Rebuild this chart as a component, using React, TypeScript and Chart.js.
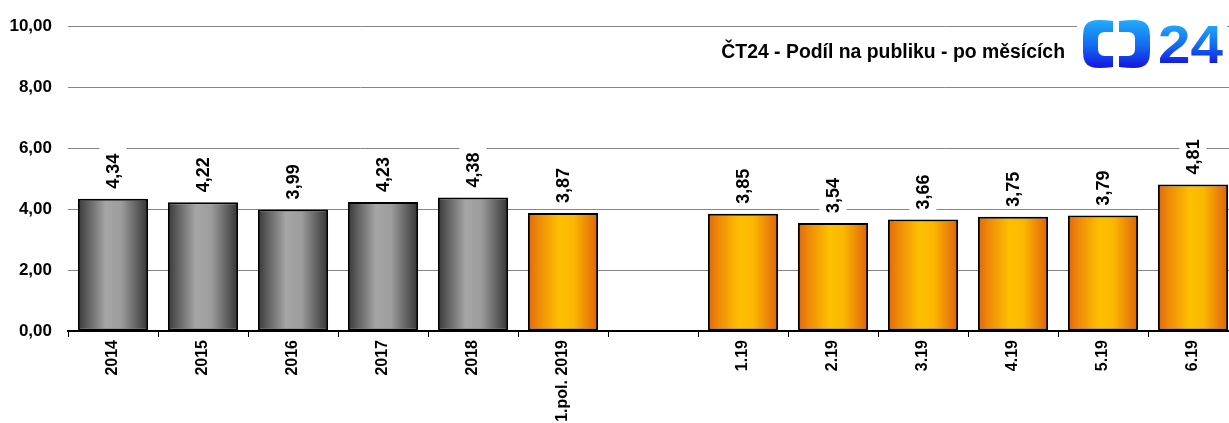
import React, { useEffect, useRef } from "react";
import { Chart, registerables } from "chart.js";

Chart.register(...registerables);

const categories: string[] = [
  "2014", "2015", "2016", "2017", "2018", "1.pol. 2019", "",
  "1.19", "2.19", "3.19", "4.19", "5.19", "6.19",
];
const values: (number | null)[] = [
  4.34, 4.22, 3.99, 4.23, 4.38, 3.87, null, 3.85, 3.54, 3.66, 3.75, 3.79, 4.81,
];
// which bars belong to the yearly (grey) group
const yearlyCount = 5;
const yTicks = { min: 0, max: 10, step: 2 };
const titleText = "ČT24 - Podíl na publiku - po měsících";
const logoText = "24";

const FONT = '"Liberation Sans", Arial, sans-serif';

const fmt = (v: number) => v.toFixed(2).replace(".", ",");

function barGradient(ctx: CanvasRenderingContext2D, left: number, right: number, grey: boolean) {
  const g = ctx.createLinearGradient(left, 0, right, 0);
  if (grey) {
    g.addColorStop(0, "#383838");
    g.addColorStop(0.12, "#5a5a5a");
    g.addColorStop(0.4, "#a6a6a6");
    g.addColorStop(0.62, "#9c9c9c");
    g.addColorStop(0.88, "#555555");
    g.addColorStop(1, "#353535");
  } else {
    g.addColorStop(0, "#e0680c");
    g.addColorStop(0.15, "#ee8a08");
    g.addColorStop(0.45, "#ffc000");
    g.addColorStop(0.65, "#fbb800");
    g.addColorStop(0.9, "#e87a0a");
    g.addColorStop(1, "#de620c");
  }
  return g;
}

function logoGradient(ctx: CanvasRenderingContext2D, y0: number, y1: number) {
  const grad = ctx.createLinearGradient(0, y0, 0, y1);
  grad.addColorStop(0, "#22acfa");
  grad.addColorStop(0.5, "#1470f2");
  grad.addColorStop(1, "#1414e2");
  return grad;
}

const valueLabels = {
  id: "valueLabels",
  afterDatasetsDraw(chart: any) {
    const ctx: CanvasRenderingContext2D = chart.ctx;
    const meta = chart.getDatasetMeta(0);
    ctx.save();
    ctx.font = `bold 18px ${FONT}`;
    meta.data.forEach((el: any, i: number) => {
      const v = values[i];
      if (v === null || v === undefined) return;
      const txt = fmt(v);
      const w = ctx.measureText(txt).width;
      ctx.save();
      ctx.translate(el.x, el.y - 10);
      ctx.rotate(-Math.PI / 2);
      ctx.fillStyle = "#ffffff";
      ctx.fillRect(-2, -13.5, w + 9, 27);
      ctx.fillStyle = "#000000";
      ctx.textAlign = "left";
      ctx.textBaseline = "middle";
      ctx.fillText(txt, 0, 1);
      ctx.restore();
    });
    ctx.restore();
  },
};

const decorations = {
  id: "decorations",
  afterDraw(chart: any) {
    const ctx: CanvasRenderingContext2D = chart.ctx;
    ctx.save();
    // title
    ctx.font = `bold 19.4px ${FONT}`;
    ctx.fillStyle = "#000000";
    ctx.textAlign = "right";
    ctx.textBaseline = "middle";
    ctx.fillText(titleText, 1065, 53);

    // logo background
    ctx.fillStyle = "#ffffff";
    ctx.fillRect(1077, 8, 150, 70);

    ctx.fillStyle = logoGradient(ctx, 20, 68);

    const piece = (x0: number, x1: number, y0: number, y1: number, tv: number, th: number, r: number, left: boolean) => {
      ctx.beginPath();
      const ir = 7;
      if (left) {
        ctx.moveTo(x1, y0 + 1);
        ctx.quadraticCurveTo(x0 + r, y0 - 1, x0 + r * 0.6, y0 + 1);
        ctx.quadraticCurveTo(x0, y0 + 3, x0, y0 + r + 2);
        ctx.lineTo(x0, y1 - r - 2);
        ctx.quadraticCurveTo(x0, y1 - 3, x0 + r * 0.6, y1 - 1);
        ctx.quadraticCurveTo(x0 + r, y1 + 1, x1, y1 - 1);
        ctx.lineTo(x1, y1 - th);
        ctx.lineTo(x0 + tv + ir, y1 - th);
        ctx.quadraticCurveTo(x0 + tv, y1 - th, x0 + tv, y1 - th - ir);
        ctx.lineTo(x0 + tv, y0 + th + ir);
        ctx.quadraticCurveTo(x0 + tv, y0 + th, x0 + tv + ir, y0 + th);
        ctx.lineTo(x1, y0 + th);
        ctx.closePath();
      } else {
        ctx.moveTo(x0, y0 + 1);
        ctx.quadraticCurveTo(x1 - r, y0 - 1, x1 - r * 0.6, y0 + 1);
        ctx.quadraticCurveTo(x1, y0 + 3, x1, y0 + r + 2);
        ctx.lineTo(x1, y1 - r - 2);
        ctx.quadraticCurveTo(x1, y1 - 3, x1 - r * 0.6, y1 - 1);
        ctx.quadraticCurveTo(x1 - r, y1 + 1, x0, y1 - 1);
        ctx.lineTo(x0, y1 - th);
        ctx.lineTo(x1 - tv - ir, y1 - th);
        ctx.quadraticCurveTo(x1 - tv, y1 - th, x1 - tv, y1 - th - ir);
        ctx.lineTo(x1 - tv, y0 + th + ir);
        ctx.quadraticCurveTo(x1 - tv, y0 + th, x1 - tv - ir, y0 + th);
        ctx.lineTo(x0, y0 + th);
        ctx.closePath();
      }
      ctx.fill();
    };
    piece(1083, 1113, 20, 68, 15, 12, 14, true);
    piece(1119, 1150, 20, 68, 15, 12, 14, false);

    ctx.font = `bold 53px ${FONT}`;
    ctx.textAlign = "left";
    ctx.textBaseline = "alphabetic";
    ctx.translate(1158, 63);
    ctx.scale(1.1, 1);
    ctx.fillStyle = logoGradient(ctx, -40, 2);
    ctx.fillText(logoText, 0, 0);
    ctx.restore();
  },
};

export default function App() {
  const ref = useRef<HTMLCanvasElement | null>(null);
  useEffect(() => {
    if (!ref.current) return;
    const chart = new Chart(ref.current, {
      type: "bar",
      data: {
        labels: categories,
        datasets: [
          {
            data: values as any,
            backgroundColor: (c: any) => {
              const ch = c.chart;
              const xs = ch.scales?.x;
              if (!ch.chartArea || !xs) return "#888";
              const cx = xs.getPixelForValue(c.dataIndex);
              const half = (ch.chartArea.width / categories.length) * 0.78 / 2;
              return barGradient(ch.ctx, cx - half, cx + half, c.dataIndex < yearlyCount);
            },
            borderColor: "#000000",
            borderWidth: 2,
            borderSkipped: false,
            barPercentage: 0.78,
            categoryPercentage: 1,
          },
        ],
      },
      options: {
        responsive: false,
        animation: false,
        devicePixelRatio: 1,
        layout: { padding: { top: 24, right: 2, left: 0, bottom: 0 } },
        plugins: { legend: { display: false }, tooltip: { enabled: false }, title: { display: false } },
        scales: {
          x: {
            offset: true,
            grid: {
              display: true,
              drawOnChartArea: false,
              drawTicks: true,
              tickLength: 6,
              color: "#000000",
              lineWidth: 1,
              offset: true,
            },
            border: { display: true, color: "#000000", width: 2 },
            ticks: {
              autoSkip: false,
              minRotation: 90,
              maxRotation: 90,
              padding: 3,
              color: "#000000",
              font: { family: FONT, size: 16, weight: "bold" },
            },
            afterFit: (s: any) => {
              s.height = 109;
            },
          },
          y: {
            min: yTicks.min,
            max: yTicks.max,
            grid: { color: "#868686", lineWidth: 1, drawTicks: false },
            border: { display: false },
            ticks: {
              stepSize: yTicks.step,
              padding: 16,
              color: "#000000",
              font: { family: FONT, size: 17, weight: "bold" },
              callback: (v: any) => fmt(Number(v)),
            },
            afterFit: (s: any) => {
              s.width = 68;
            },
          },
        },
      },
      plugins: [valueLabels, decorations],
    });
    return () => chart.destroy();
  }, []);

  return (
    <div style={{ position: "fixed", left: 0, top: 0, width: 1229, height: 423, overflow: "hidden", background: "#fff" }}>
      <canvas ref={ref} width={1240} height={440} style={{ width: 1240, height: 440, display: "block" }} />
    </div>
  );
}
